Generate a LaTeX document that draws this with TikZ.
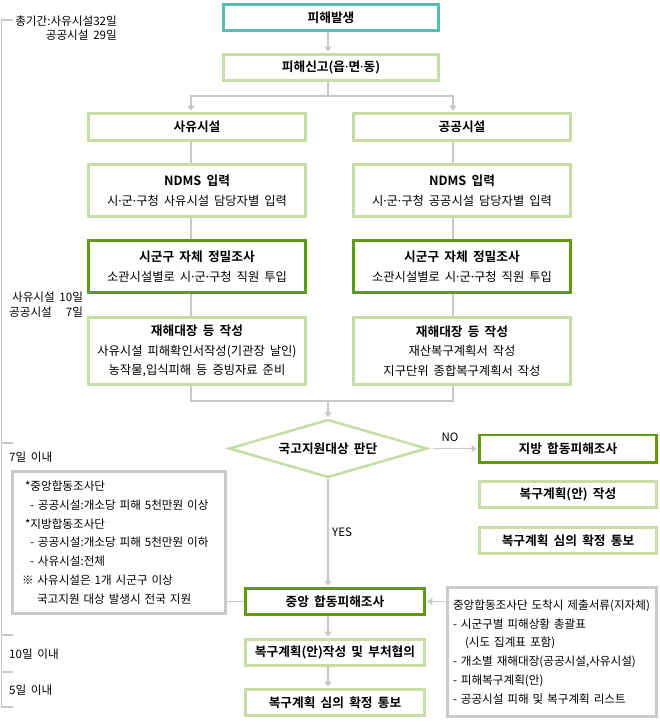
\documentclass[tikz,border=0pt]{standalone}
\usepackage{fontspec}
\setmainfont{Noto Sans CJK KR}[BoldFont={Noto Sans CJK KR Bold},WordSpace=1.8]
\newfontfamily\dotfont{Noto Sans}
\newcommand{\mdot}{{\dotfont ·}}
\usetikzlibrary{arrows.meta,shapes.geometric}
\definecolor{tealc}{HTML}{5BBCB4}
\definecolor{lgreen}{HTML}{C6DDA6}
\definecolor{dgreen}{HTML}{5E9B0E}
\definecolor{gline}{HTML}{C8C8C8}
\definecolor{gbox}{HTML}{CACACA}
\newcommand{\boxtitle}[1]{{\bfseries\fontsize{12.7}{19.5}\selectfont #1}}
\begin{document}
\begin{tikzpicture}[x=1pt,y=-1pt,
  base/.style={draw, line width=2.6pt, inner sep=0pt, align=center,
    font=\fontsize{12.3}{19.5}\selectfont, text=black},
  lightbox/.style={base, draw=lgreen},
  darkbox/.style={base, draw=dgreen},
  tealbox/.style={base, draw=tealc},
  notebox/.style={draw=gbox, line width=2.6pt, align=left, inner ysep=0pt,
    font=\fontsize{11.6}{18.8}\selectfont},
  conn/.style={draw=gline, line width=1.2pt},
  arr/.style={conn, -{Triangle[width=7pt,length=5pt]}, shorten >=1.3pt},
  tl/.style={draw=gline, line width=1.5pt},
  lbl/.style={inner sep=0pt, font=\fontsize{11.6}{15}\selectfont}
]
\useasboundingbox (0,0) rectangle (660,722);
\fill[white] (0,0) rectangle (660,722);

% column coordinates
\coordinate (lx) at (191,0);
\coordinate (rx) at (453,0);
\coordinate (mx) at (328,0);

% main boxes
\node[tealbox, minimum width=215.4pt, minimum height=26.4pt] (occur) at (331,17.5) {\boxtitle{피해발생}};
\node[lightbox, minimum width=215.4pt, minimum height=26.4pt] (report) at (331,67.5) {\boxtitle{피해신고(읍\mdot 면\mdot 동)}};

\node[lightbox, minimum width=217.4pt, minimum height=27.4pt] (priv) at (197,127) {\boxtitle{사유시설}};
\node[lightbox, minimum width=217.4pt, minimum height=27.4pt] (pub) at (462,127) {\boxtitle{공공시설}};

\node[lightbox, minimum width=217.4pt, minimum height=52.4pt] (ndms1) at (197,190.5) {\boxtitle{NDMS 입력}\\시\mdot 군\mdot 구청 사유시설 담당자별 입력};
\node[lightbox, minimum width=217.4pt, minimum height=52.4pt] (ndms2) at (462,190.5) {\boxtitle{NDMS 입력}\\시\mdot 군\mdot 구청 공공시설 담당자별 입력};

\node[darkbox, minimum width=217.4pt, minimum height=52.4pt] (survey1) at (197,266.5) {\boxtitle{시군구 자체 정밀조사}\\소관시설별로 시\mdot 군\mdot 구청 직원 투입};
\node[darkbox, minimum width=217.4pt, minimum height=52.4pt] (survey2) at (462,266.5) {\boxtitle{시군구 자체 정밀조사}\\소관시설별로 시\mdot 군\mdot 구청 직원 투입};

\node[lightbox, minimum width=217.4pt, minimum height=67.4pt] (ledger1) at (197,351) {\boxtitle{재해대장 등 작성}\\사유시설 피해확인서작성(기관장 날인)\\농작물,입식피해 등 증빙자료 준비};
\node[lightbox, minimum width=217.4pt, minimum height=67.4pt] (ledger2) at (462,351) {\boxtitle{재해대장 등 작성}\\재산복구계획서 작성\\지구단위 종합복구계획서 작성};

\node[lightbox, diamond, aspect=3.33, minimum width=198pt, minimum height=58pt] (judge) at (328,448.5) {\boxtitle{국고지원대상 판단}};

\node[darkbox, minimum width=177.4pt, minimum height=27.4pt] (local) at (568,448.5) {\boxtitle{지방 합동피해조사}};
\node[lightbox, minimum width=177.4pt, minimum height=26.4pt] (plan2) at (568,494.5) {\boxtitle{복구계획(안) 작성}};
\node[lightbox, minimum width=177.4pt, minimum height=26.4pt] (notify2) at (568,540.5) {\boxtitle{복구계획 심의 확정 통보}};

\node[darkbox, minimum width=179.4pt, minimum height=26.4pt] (central) at (335,601.5) {\boxtitle{중앙 합동피해조사}};
\node[lightbox, minimum width=179.4pt, minimum height=26.4pt] (plan) at (335,652.5) {\boxtitle{복구계획(안)작성 및 부처협의}};
\node[lightbox, minimum width=179.4pt, minimum height=26.4pt] (notify) at (335,702.5) {\boxtitle{복구계획 심의 확정 통보}};

% note boxes
\node[notebox, inner xsep=9.5pt, text width=194pt, minimum width=213.4pt, minimum height=142.4pt] (lnote) at (119,542.5) {%
\mbox{\hspace*{3pt}*중앙합동조사단}\\
\mbox{\hspace*{8pt}- 공공시설:개소당 피해 5천만원 이상}\\
\mbox{\hspace*{3pt}*지방합동조사단}\\
\mbox{\hspace*{8pt}- 공공시설:개소당 피해 5천만원 이하}\\
\mbox{\hspace*{8pt}- 사유시설:전체}\\
\mbox{※ 사유시설은 1개 시군구 이상}\\
\mbox{\hspace*{15pt}국고지원 대상 발생시 전국 지원}};

\node[notebox, inner xsep=5.5pt, text width=198pt, minimum width=209.4pt, minimum height=129.4pt] (rnote) at (552,652) {%
\mbox{중앙합동조사단 도착시 제출서류(지자체)}\\
\mbox{- 시군구별 피해상황 총괄표}\\
\mbox{\hspace*{12pt}(시도 집계표 포함)}\\
\mbox{- 개소별 재해대장(공공시설,사유시설)}\\
\mbox{- 피해복구계획(안)}\\
\mbox{- 공공시설 피해 및 복구계획 리스트}};

% connectors
\draw[arr] (occur.south -| mx) -- (report.north -| mx);
\coordinate (split) at (328,96);
\draw[conn] (report.south -| mx) -- (split);
\draw[arr] (split) -| (priv.north -| lx);
\draw[arr] (split) -| (pub.north -| rx);

\draw[conn] (priv.south -| lx) -- (ndms1.north -| lx);
\draw[conn] (ndms1.south -| lx) -- (survey1.north -| lx);
\draw[conn] (survey1.south -| lx) -- (ledger1.north -| lx);
\draw[conn] (pub.south -| rx) -- (ndms2.north -| rx);
\draw[conn] (ndms2.south -| rx) -- (survey2.north -| rx);
\draw[conn] (survey2.south -| rx) -- (ledger2.north -| rx);

\coordinate (merge) at (328,401);
\draw[conn] (ledger1.south -| lx) -- (lx |- merge) -- (rx |- merge) -- (ledger2.south -| rx);
\draw[arr] (merge) -- (judge.north);

\draw[arr, shorten <=5pt] (judge.east) -- (local.west);
\node[lbl, font=\fontsize{11.5}{13}\selectfont] (no) at (450,437) {NO};

\draw[arr] (judge.south) -- (central.north -| mx);
\node[lbl, anchor=west] (yes) at (332,532) {YES};

\draw[arr] (central.south -| mx) -- (plan.north -| mx);
\draw[arr] (plan.south -| mx) -- (notify.north -| mx);

\draw[arr] (rnote.west |- central) -- (central.east);
\draw[conn] (lnote.east |- central) -- (central.west);

% timeline
\coordinate (t0) at (1.5,20);
\coordinate (t1) at (1.5,443);
\coordinate (t2) at (1.5,635);
\coordinate (t3) at (1.5,672);
\coordinate (t4) at (1.5,707);
\draw[tl] ([xshift=11pt]t0) -- (t0) -- (t4) -- ([xshift=11pt]t4);
\draw[tl] (t1) -- ([xshift=11pt]t1);
\draw[tl] (t2) -- ([xshift=11pt]t2);
\draw[tl] (t3) -- ([xshift=11pt]t3);

\node[lbl, anchor=east, align=right, font=\fontsize{11.6}{13.5}\selectfont] (total) at (117,28.3) {총기간:사유시설32일\\공공시설 29일};
\node[lbl, anchor=west, align=right] (dur1) at (9,304.5) {사유시설 10일\\공공시설 \ \ 7일};
\node[lbl, anchor=west] (dur2) at (9,457) {7일 이내};
\node[lbl, anchor=west] (dur3) at (9,654) {10일 이내};
\node[lbl, anchor=west] (dur4) at (9,690) {5일 이내};
\end{tikzpicture}
\end{document}
